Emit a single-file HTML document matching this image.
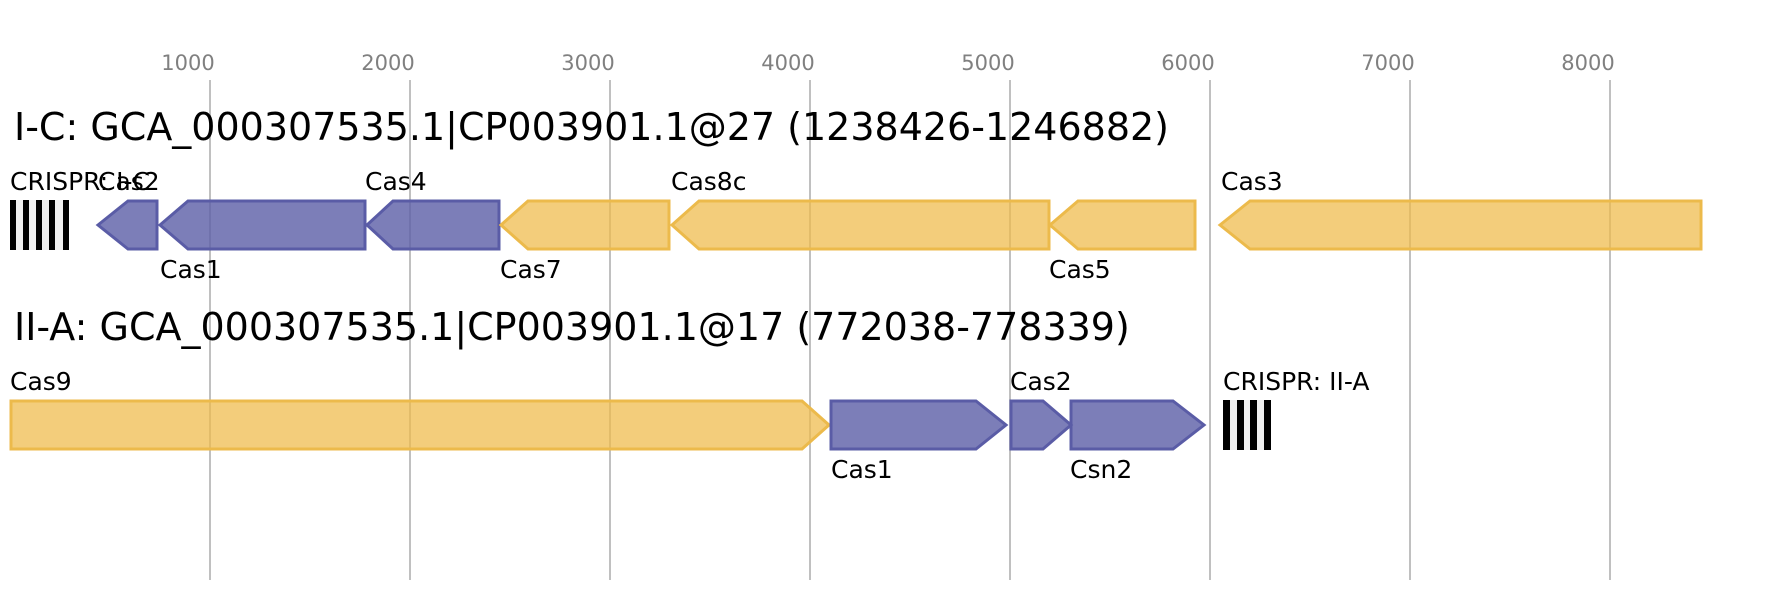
<!DOCTYPE html>
<html><head><meta charset="utf-8"><style>
html,body{margin:0;padding:0;background:#fff;}
svg{display:block;}
text{font-family:"DejaVu Sans","Liberation Sans",sans-serif;}
</style></head><body>
<svg width="1791" height="600" viewBox="0 0 1791 600" xmlns="http://www.w3.org/2000/svg">
<rect width="1791" height="600" fill="#fff"/>
<g stroke="#c0c0c0" stroke-width="2">
<line x1="210" y1="80" x2="210" y2="580"/>
<line x1="410" y1="80" x2="410" y2="580"/>
<line x1="610" y1="80" x2="610" y2="580"/>
<line x1="810" y1="80" x2="810" y2="580"/>
<line x1="1010" y1="80" x2="1010" y2="580"/>
<line x1="1210" y1="80" x2="1210" y2="580"/>
<line x1="1410" y1="80" x2="1410" y2="580"/>
<line x1="1610" y1="80" x2="1610" y2="580"/>
</g>
<g fill="#808080" font-size="21" text-anchor="middle">
<text x="188" y="70">1000</text>
<text x="388" y="70">2000</text>
<text x="588" y="70">3000</text>
<text x="788" y="70">4000</text>
<text x="988" y="70">5000</text>
<text x="1188" y="70">6000</text>
<text x="1388" y="70">7000</text>
<text x="1588" y="70">8000</text>
</g>
<text x="14" y="140" font-size="38" fill="#000">I-C: GCA_000307535.1|CP003901.1@27 (1238426-1246882)</text>
<text x="14" y="340" font-size="38" fill="#000">II-A: GCA_000307535.1|CP003901.1@17 (772038-778339)</text>

<!-- Row 1 CRISPR -->
<rect x="10" y="200" width="59" height="50" fill="#f0f0f0"/>
<g fill="#000">
<rect x="10" y="200" width="6" height="50"/>
<rect x="23" y="200" width="6" height="50"/>
<rect x="36" y="200" width="6" height="50"/>
<rect x="49" y="200" width="6" height="50"/>
<rect x="63" y="200" width="6" height="50"/>
</g>

<g stroke-width="3" stroke-linejoin="miter">
<g fill="rgba(91,94,166,0.8)" stroke="#5a5ca6">
<polygon points="98,225 128,201 157,201 157,249 128,249"/>
<polygon points="160,225 188,201 365,201 365,249 188,249"/>
<polygon points="367,225 393,201 499,201 499,249 393,249"/>
</g>
<g fill="rgba(238,186,72,0.72)" stroke="#ecba4b">
<polygon points="501,225 528,201 669,201 669,249 528,249"/>
<polygon points="672,225 699,201 1049,201 1049,249 699,249"/>
<polygon points="1050,225 1078,201 1195,201 1195,249 1078,249"/>
<polygon points="1220,225 1250,201 1701,201 1701,249 1250,249"/>
</g>
<!-- Row 2 -->
<g fill="rgba(238,186,72,0.72)" stroke="#ecba4b">
<polygon points="11,401 802,401 829,425 802,449 11,449"/>
</g>
<g fill="rgba(91,94,166,0.8)" stroke="#5a5ca6">
<polygon points="831,401 976,401 1006,425 976,449 831,449"/>
<polygon points="1011,401 1043,401 1071,425 1043,449 1011,449"/>
<polygon points="1071,401 1173,401 1204,425 1173,449 1071,449"/>
</g>
</g>

<!-- Row 2 CRISPR -->
<rect x="1223" y="400" width="48" height="50" fill="#f0f0f0"/>
<g fill="#000">
<rect x="1223" y="400" width="7" height="50"/>
<rect x="1237" y="400" width="7" height="50"/>
<rect x="1250" y="400" width="7" height="50"/>
<rect x="1264" y="400" width="7" height="50"/>
</g>

<g fill="#000" font-size="25">
<text x="10" y="190">CRISPR: I-C</text>
<text x="98" y="190">Cas2</text>
<text x="160" y="278">Cas1</text>
<text x="365" y="190">Cas4</text>
<text x="500" y="278">Cas7</text>
<text x="671" y="190">Cas8c</text>
<text x="1049" y="278">Cas5</text>
<text x="1221" y="190">Cas3</text>
<text x="10" y="390">Cas9</text>
<text x="831" y="478">Cas1</text>
<text x="1010" y="390">Cas2</text>
<text x="1070" y="478">Csn2</text>
<text x="1223" y="390">CRISPR: II-A</text>
</g>
</svg>
</body></html>
